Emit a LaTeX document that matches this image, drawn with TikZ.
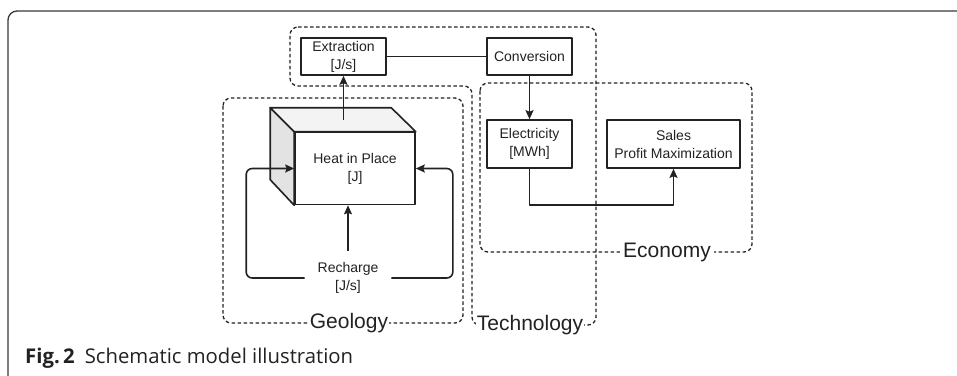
\documentclass[tikz,border=0pt]{standalone}
\usepackage{fontspec}
\setmainfont{Liberation Sans}
\newfontfamily\capfont{Open Sans}
\usetikzlibrary{arrows.meta,positioning}
\definecolor{ink}{HTML}{222222}
\definecolor{sidegray}{HTML}{E3E3E3}
\definecolor{topgray}{HTML}{F3F3F3}

\begin{document}
\begin{tikzpicture}[x=1pt,y=-1pt,line join=round,
  box/.style={draw=ink,line width=1.6pt,fill=white,align=center,inner sep=2pt,
    font=\fontsize{14}{18}\selectfont,text=ink},
  flow/.style={draw=ink,line width=1.6pt,-{Stealth[length=9pt,width=8pt,inset=1.5pt]}},
  link/.style={draw=ink,line width=1.6pt},
  grp/.style={draw=ink,line width=1.3pt,dash pattern=on 3.5pt off 2.5pt,rounded corners=8pt},
  grplabel/.style={fill=white,inner xsep=1pt,inner ysep=0pt,text=ink,
    font=\fontsize{21}{24}\selectfont}]
  \useasboundingbox (0,0) rectangle (957,375);
  \fill[white] (0,0) rectangle (957,375);
  \draw[ink!90,line width=1.3pt,rounded corners=9pt] (8,11) rectangle (990,385);

  \draw[grp] (290,27) -- (596,27) -- (596,325) -- (472,325) -- (472,86) -- (290,86) -- cycle;
  \draw[grp] (223,98) rectangle (463,323);
  \draw[grp] (480,83) rectangle (752,252);

  \node[box,minimum width=85pt,minimum height=37pt] (extr) at (343.5,56.5) {Extraction\\{[J/s]}};
  \node[box,minimum width=85pt,minimum height=37pt] (conv) at (529.5,56.5) {Conversion};
  \node[box,minimum width=85pt,minimum height=48pt] (elec) at (529.5,144) {Electricity\\{[MWh]}};
  \node[box,minimum width=133pt,minimum height=48pt] (sales) at (673.5,144) {Sales\\Profit Maximization};
  \node[box,minimum width=120pt,minimum height=72pt] (heat) at (355,168.5) {Heat in Place\\{[J]}};
  \node[box,draw=none,fill=none,minimum width=85pt,minimum height=52pt] (rech) at (348,278) {Recharge\\{[J/s]}};

  \filldraw[fill=sidegray,draw=ink,line width=1.6pt] (heat.north west) -- ++(-24,-24) -- ++(0,72) -- (heat.south west) -- cycle;
  \filldraw[fill=topgray,draw=ink,line width=1.6pt] (heat.north west) -- ++(-24,-24) -- ++(121,0) -- (heat.north east) -- cycle;
  \coordinate (topc) at (343.5,120);

  \draw[flow] (topc) -- (extr.south);
  \draw[link] (extr) -- (conv);
  \draw[flow] (conv) -- (elec);
  \draw[flow] (elec.south) -- ++(0,36) -| (sales.south);
  \draw[flow] (rech.north) -- (rech.north |- heat.south);
  \draw[flow,rounded corners=6pt] (rech.west) -| ([xshift=-48pt]heat.west) -- (heat.west);
  \draw[flow,rounded corners=6pt] (rech.east) -| ([xshift=37pt]heat.east) -- (heat.east);

  \node[grplabel] (geo) at (349,323) {Geology};
  \node[grplabel] (tech) at (530,325) {Technology};
  \node[grplabel,inner xsep=3pt] (eco) at (667,252) {Economy};

  \node[anchor=base west,inner sep=0pt,text=ink,font=\capfont\fontsize{20.3}{22}\selectfont] (cap) at (25,363)
    {\textbf{Fig.\,2}\hspace{10pt}Schematic model illustration};
\end{tikzpicture}
\end{document}
